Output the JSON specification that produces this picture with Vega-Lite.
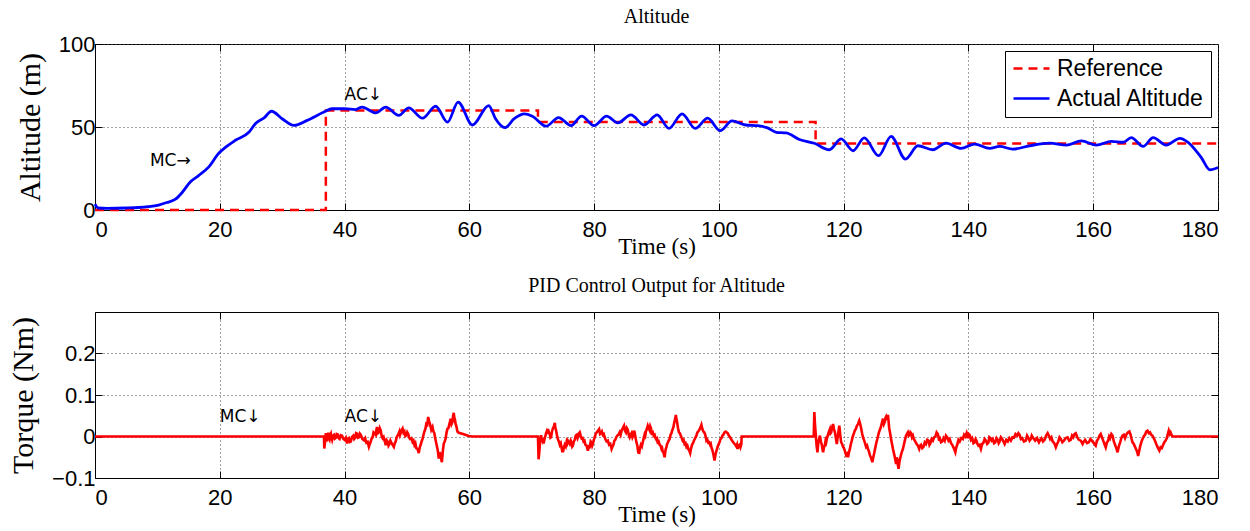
{
  "$schema": "https://vega.github.io/schema/vega-lite/v6.json",
  "padding": {"left": 8, "top": 6, "right": 5, "bottom": 5},
  "spacing": 16,
  "config": {
    "view": {"stroke": "black", "strokeWidth": 1},
    "axis": {
      "domainColor": "black", "tickColor": "black", "tickSize": -7,
      "labelFont": "Liberation Sans", "labelFontSize": 22, "labelColor": "black",
      "titleFont": "Liberation Serif", "titleFontWeight": "normal", "titleColor": "black",
      "gridColor": "#444", "gridDash": [1, 3], "gridWidth": 1
    },
    "axisX": {"labelPadding": 16, "titlePadding": -5, "titleFontSize": 23},
    "axisY": {"labelPadding": 7, "titlePadding": 13, "titleFontSize": 30},
    "title": {"font": "Liberation Serif", "fontSize": 20, "fontWeight": "normal", "color": "black", "offset": 16}
  },
  "datasets": {
    "alt": [
      {"t":0,"v":3.5,"s":"Actual Altitude"},{"t":0.5,"v":1.2,"s":"Actual Altitude"},{"t":2,"v":1,"s":"Actual Altitude"},{"t":5,"v":1.2,"s":"Actual Altitude"},{"t":7,"v":1.5,"s":"Actual Altitude"},{"t":8.5,"v":2,"s":"Actual Altitude"},{"t":10.2,"v":3,"s":"Actual Altitude"},{"t":11.5,"v":4.5,"s":"Actual Altitude"},{"t":12.9,"v":6.5,"s":"Actual Altitude"},{"t":14,"v":10.7,"s":"Actual Altitude"},{"t":15.3,"v":17,"s":"Actual Altitude"},{"t":16.6,"v":20.7,"s":"Actual Altitude"},{"t":18.2,"v":25.8,"s":"Actual Altitude"},{"t":19.8,"v":34,"s":"Actual Altitude"},{"t":21,"v":38,"s":"Actual Altitude"},{"t":22.5,"v":42,"s":"Actual Altitude"},{"t":24.7,"v":47,"s":"Actual Altitude"},{"t":25.7,"v":52,"s":"Actual Altitude"},{"t":27.1,"v":55.5,"s":"Actual Altitude"},{"t":28.3,"v":59.5,"s":"Actual Altitude"},{"t":30,"v":55,"s":"Actual Altitude"},{"t":31.9,"v":51,"s":"Actual Altitude"},{"t":34,"v":54,"s":"Actual Altitude"},{"t":36.7,"v":59,"s":"Actual Altitude"},{"t":38,"v":61,"s":"Actual Altitude"},{"t":40,"v":61,"s":"Actual Altitude"},{"t":41.8,"v":60.5,"s":"Actual Altitude"},{"t":42.8,"v":62,"s":"Actual Altitude"},{"t":45,"v":58.5,"s":"Actual Altitude"},{"t":46.6,"v":62,"s":"Actual Altitude"},{"t":48.7,"v":57,"s":"Actual Altitude"},{"t":50.3,"v":61.5,"s":"Actual Altitude"},{"t":52.5,"v":55.3,"s":"Actual Altitude"},{"t":54.6,"v":62.5,"s":"Actual Altitude"},{"t":56.5,"v":52.9,"s":"Actual Altitude"},{"t":58.2,"v":65,"s":"Actual Altitude"},{"t":60.5,"v":51.2,"s":"Actual Altitude"},{"t":63.1,"v":62.9,"s":"Actual Altitude"},{"t":64.2,"v":55,"s":"Actual Altitude"},{"t":65.7,"v":49.6,"s":"Actual Altitude"},{"t":67.2,"v":55,"s":"Actual Altitude"},{"t":68.8,"v":57.9,"s":"Actual Altitude"},{"t":70.1,"v":56.5,"s":"Actual Altitude"},{"t":72.3,"v":50.5,"s":"Actual Altitude"},{"t":74.3,"v":55.7,"s":"Actual Altitude"},{"t":76.3,"v":50.8,"s":"Actual Altitude"},{"t":78,"v":56.5,"s":"Actual Altitude"},{"t":80,"v":50.8,"s":"Actual Altitude"},{"t":82,"v":56.5,"s":"Actual Altitude"},{"t":83.8,"v":52.5,"s":"Actual Altitude"},{"t":85.9,"v":57.3,"s":"Actual Altitude"},{"t":88,"v":51.2,"s":"Actual Altitude"},{"t":90.1,"v":57.3,"s":"Actual Altitude"},{"t":92,"v":49.2,"s":"Actual Altitude"},{"t":94.1,"v":57.9,"s":"Actual Altitude"},{"t":96.2,"v":49.2,"s":"Actual Altitude"},{"t":98.2,"v":55.3,"s":"Actual Altitude"},{"t":100.2,"v":47.8,"s":"Actual Altitude"},{"t":102.1,"v":53.7,"s":"Actual Altitude"},{"t":104.3,"v":51.2,"s":"Actual Altitude"},{"t":106.2,"v":50.8,"s":"Actual Altitude"},{"t":107.8,"v":49.5,"s":"Actual Altitude"},{"t":109.2,"v":46.8,"s":"Actual Altitude"},{"t":110.8,"v":46.4,"s":"Actual Altitude"},{"t":112.9,"v":42.5,"s":"Actual Altitude"},{"t":115.3,"v":40.2,"s":"Actual Altitude"},{"t":117.7,"v":36.3,"s":"Actual Altitude"},{"t":119.6,"v":42.8,"s":"Actual Altitude"},{"t":121.5,"v":35.7,"s":"Actual Altitude"},{"t":123.3,"v":43.4,"s":"Actual Altitude"},{"t":125.6,"v":32.7,"s":"Actual Altitude"},{"t":127.6,"v":44.4,"s":"Actual Altitude"},{"t":129.9,"v":30.7,"s":"Actual Altitude"},{"t":131.9,"v":38.7,"s":"Actual Altitude"},{"t":134.3,"v":36.3,"s":"Actual Altitude"},{"t":136.4,"v":40.3,"s":"Actual Altitude"},{"t":138.8,"v":37.1,"s":"Actual Altitude"},{"t":141,"v":39.7,"s":"Actual Altitude"},{"t":143.4,"v":37.1,"s":"Actual Altitude"},{"t":145,"v":38.3,"s":"Actual Altitude"},{"t":147.1,"v":36.7,"s":"Actual Altitude"},{"t":149.8,"v":38.7,"s":"Actual Altitude"},{"t":153,"v":40.3,"s":"Actual Altitude"},{"t":155.7,"v":39.1,"s":"Actual Altitude"},{"t":158.1,"v":41.7,"s":"Actual Altitude"},{"t":160.5,"v":39.1,"s":"Actual Altitude"},{"t":162.9,"v":41.4,"s":"Actual Altitude"},{"t":164.8,"v":40.8,"s":"Actual Altitude"},{"t":166.1,"v":43.6,"s":"Actual Altitude"},{"t":168,"v":38.3,"s":"Actual Altitude"},{"t":169.6,"v":43.6,"s":"Actual Altitude"},{"t":171.7,"v":39.1,"s":"Actual Altitude"},{"t":173.9,"v":43.2,"s":"Actual Altitude"},{"t":175.2,"v":40.8,"s":"Actual Altitude"},{"t":177.3,"v":31.7,"s":"Actual Altitude"},{"t":178.7,"v":24.2,"s":"Actual Altitude"},{"t":180,"v":25.6,"s":"Actual Altitude"}
    ],
    "ref": [
      {"t":0,"v":0,"s":"Reference"},{"t":37,"v":0,"s":"Reference"},{"t":37,"v":60,"s":"Reference"},{"t":71,"v":60,"s":"Reference"},{"t":71,"v":53,"s":"Reference"},{"t":115.5,"v":53,"s":"Reference"},{"t":115.5,"v":40,"s":"Reference"},{"t":180,"v":40,"s":"Reference"}
    ],
    "notesTop": [
      {"t":8.8,"v":29.5,"label":"MC→"},{"t":40,"v":69,"label":"AC↓"}
    ],
    "notesBottom": [
      {"t":20,"v":0.048,"label":"MC↓"},{"t":40,"v":0.048,"label":"AC↓"}
    ],
    "torque": [
      {"t":0,"v":0},{"t":36.7,"v":0},{"t":36.75,"v":-0.029},{"t":36.9,"v":-0.01},{"t":37.0,"v":0.008},{"t":37.1,"v":-0.004},{"t":37.2,"v":-0.012},{"t":37.3,"v":0.002},{"t":37.4,"v":0.009},{"t":37.5,"v":-0.002},{"t":37.6,"v":-0.006},{"t":37.7,"v":0.004},{"t":37.8,"v":0.007},{"t":37.9,"v":-0.003},{"t":38.0,"v":-0.008},{"t":38.15,"v":0.002},{"t":38.3,"v":0.004},{"t":38.45,"v":-0.005},{"t":38.6,"v":-0.003},{"t":38.75,"v":0.006},{"t":38.9,"v":0.005},{"t":39.05,"v":-0.004},{"t":39.2,"v":-0.006},{"t":39.4,"v":0.003},{"t":39.6,"v":0.002},{"t":39.8,"v":-0.006},{"t":40.0,"v":-0.008},{"t":40.2,"v":-0.003},{"t":40.4,"v":-0.017},{"t":40.55,"v":-0.006},{"t":40.7,"v":-0.004},{"t":40.85,"v":-0.013},{"t":41.0,"v":-0.012},{"t":41.2,"v":-0.001},{"t":41.4,"v":0.002},{"t":41.55,"v":-0.006},{"t":41.7,"v":-0.003},{"t":41.85,"v":0.008},{"t":42.0,"v":0.007},{"t":42.15,"v":-0.003},{"t":42.3,"v":-0.002},{"t":42.45,"v":0.007},{"t":42.6,"v":0.004},{"t":42.85,"v":-0.006},{"t":43.1,"v":-0.009},{"t":43.3,"v":-0.004},{"t":43.5,"v":-0.015},{"t":43.7,"v":-0.013},{"t":43.9,"v":-0.025},{"t":44.05,"v":-0.018},{"t":44.2,"v":-0.012},{"t":44.35,"v":-0.004},{"t":44.5,"v":-0.002},{"t":44.65,"v":0.01},{"t":44.8,"v":0.008},{"t":45.0,"v":0.004},{"t":45.1,"v":0.016},{"t":45.2,"v":0.023},{"t":45.35,"v":0.008},{"t":45.5,"v":0.01},{"t":45.65,"v":0.02},{"t":45.8,"v":0.015},{"t":45.95,"v":0.001},{"t":46.1,"v":-0.004},{"t":46.25,"v":-0.001},{"t":46.4,"v":-0.01},{"t":46.5,"v":-0.014},{"t":46.6,"v":-0.021},{"t":46.75,"v":-0.009},{"t":46.9,"v":-0.012},{"t":47.05,"v":-0.022},{"t":47.2,"v":-0.018},{"t":47.35,"v":-0.01},{"t":47.5,"v":-0.015},{"t":47.7,"v":-0.02},{"t":47.9,"v":-0.025},{"t":48.05,"v":-0.016},{"t":48.2,"v":-0.012},{"t":48.35,"v":-0.002},{"t":48.5,"v":0.002},{"t":48.65,"v":0.006},{"t":48.8,"v":0.012},{"t":48.9,"v":0.004},{"t":49.0,"v":0.008},{"t":49.15,"v":0.015},{"t":49.3,"v":0.019},{"t":49.45,"v":0.009},{"t":49.6,"v":0.012},{"t":49.75,"v":0.001},{"t":49.9,"v":0.003},{"t":50.05,"v":0.01},{"t":50.2,"v":0.006},{"t":50.35,"v":-0.003},{"t":50.5,"v":-0.006},{"t":50.7,"v":-0.004},{"t":50.9,"v":-0.013},{"t":51.05,"v":-0.01},{"t":51.2,"v":-0.02},{"t":51.35,"v":-0.016},{"t":51.5,"v":-0.028},{"t":51.7,"v":-0.03},{"t":51.9,"v":-0.04},{"t":52.05,"v":-0.026},{"t":52.2,"v":-0.02},{"t":52.35,"v":-0.012},{"t":52.5,"v":-0.006},{"t":52.65,"v":0.004},{"t":52.8,"v":0.012},{"t":52.95,"v":0.018},{"t":53.1,"v":0.03},{"t":53.25,"v":0.028},{"t":53.4,"v":0.047},{"t":53.55,"v":0.036},{"t":53.7,"v":0.03},{"t":53.9,"v":0.016},{"t":54.1,"v":0.023},{"t":54.25,"v":0.012},{"t":54.4,"v":0.008},{"t":54.5,"v":-0.002},{"t":54.6,"v":-0.009},{"t":54.75,"v":-0.02},{"t":54.9,"v":-0.03},{"t":55.0,"v":-0.04},{"t":55.1,"v":-0.053},{"t":55.25,"v":-0.038},{"t":55.4,"v":-0.045},{"t":55.5,"v":-0.055},{"t":55.6,"v":-0.062},{"t":55.75,"v":-0.035},{"t":55.9,"v":-0.017},{"t":56.05,"v":-0.012},{"t":56.2,"v":-0.005},{"t":56.35,"v":0.01},{"t":56.5,"v":0.019},{"t":56.65,"v":0.02},{"t":56.8,"v":0.03},{"t":56.9,"v":0.036},{"t":57.0,"v":0.043},{"t":57.15,"v":0.03},{"t":57.3,"v":0.035},{"t":57.4,"v":0.05},{"t":57.5,"v":0.057},{"t":57.6,"v":0.045},{"t":57.7,"v":0.04},{"t":57.8,"v":0.03},{"t":57.9,"v":0.026},{"t":58.1,"v":0.012},{"t":58.3,"v":0.009},{"t":59.0,"v":0.006},{"t":59.9,"v":0.001},{"t":60.5,"v":0},{"t":71.0,"v":0},{"t":71.1,"v":-0.055},{"t":71.2,"v":-0.04},{"t":71.3,"v":-0.02},{"t":71.4,"v":-0.004},{"t":71.5,"v":0.003},{"t":71.6,"v":-0.006},{"t":71.7,"v":-0.01},{"t":71.8,"v":-0.004},{"t":71.9,"v":-0.017},{"t":72.05,"v":-0.006},{"t":72.2,"v":0.002},{"t":72.3,"v":0.008},{"t":72.4,"v":0.012},{"t":72.5,"v":0.006},{"t":72.6,"v":0.018},{"t":72.75,"v":0.01},{"t":72.9,"v":0.005},{"t":73.0,"v":-0.003},{"t":73.1,"v":-0.002},{"t":73.25,"v":0.012},{"t":73.4,"v":0.02},{"t":73.55,"v":0.024},{"t":73.7,"v":0.033},{"t":73.8,"v":0.02},{"t":73.9,"v":0.015},{"t":74.05,"v":0.003},{"t":74.2,"v":-0.007},{"t":74.35,"v":-0.012},{"t":74.5,"v":-0.02},{"t":74.65,"v":-0.016},{"t":74.8,"v":-0.028},{"t":74.9,"v":-0.024},{"t":75.0,"v":-0.038},{"t":75.15,"v":-0.027},{"t":75.3,"v":-0.02},{"t":75.45,"v":-0.024},{"t":75.6,"v":-0.012},{"t":75.7,"v":-0.016},{"t":75.8,"v":-0.01},{"t":75.95,"v":-0.014},{"t":76.1,"v":-0.018},{"t":76.25,"v":-0.01},{"t":76.4,"v":-0.015},{"t":76.5,"v":-0.024},{"t":76.6,"v":-0.022},{"t":76.75,"v":-0.012},{"t":76.9,"v":-0.008},{"t":77.05,"v":0.002},{"t":77.2,"v":0.004},{"t":77.35,"v":-0.004},{"t":77.5,"v":0.002},{"t":77.6,"v":0.008},{"t":77.7,"v":0.01},{"t":77.85,"v":0.002},{"t":78.0,"v":-0.005},{"t":78.15,"v":-0.004},{"t":78.3,"v":-0.012},{"t":78.45,"v":-0.01},{"t":78.6,"v":-0.02},{"t":78.8,"v":-0.022},{"t":79.0,"v":-0.034},{"t":79.15,"v":-0.024},{"t":79.3,"v":-0.025},{"t":79.45,"v":-0.012},{"t":79.6,"v":-0.015},{"t":79.7,"v":-0.022},{"t":79.8,"v":-0.018},{"t":79.95,"v":-0.008},{"t":80.1,"v":-0.002},{"t":80.25,"v":0.006},{"t":80.4,"v":0.01},{"t":80.6,"v":0.014},{"t":80.8,"v":0.018},{"t":80.95,"v":0.006},{"t":81.1,"v":0.008},{"t":81.25,"v":0.012},{"t":81.4,"v":0.004},{"t":81.55,"v":0.006},{"t":81.7,"v":-0.002},{"t":81.85,"v":-0.008},{"t":82.0,"v":-0.012},{"t":82.2,"v":-0.01},{"t":82.4,"v":-0.02},{"t":82.6,"v":-0.018},{"t":82.8,"v":-0.03},{"t":82.95,"v":-0.024},{"t":83.1,"v":-0.02},{"t":83.25,"v":-0.01},{"t":83.4,"v":-0.008},{"t":83.55,"v":-0.002},{"t":83.7,"v":0.002},{"t":83.9,"v":0.004},{"t":84.1,"v":0.01},{"t":84.25,"v":0.004},{"t":84.4,"v":0.014},{"t":84.6,"v":0.02},{"t":84.8,"v":0.026},{"t":84.95,"v":0.014},{"t":85.1,"v":0.01},{"t":85.25,"v":0.02},{"t":85.4,"v":0.016},{"t":85.55,"v":0.004},{"t":85.7,"v":-0.002},{"t":85.85,"v":0.004},{"t":86.0,"v":0.008},{"t":86.15,"v":-0.002},{"t":86.3,"v":0.003},{"t":86.4,"v":0.014},{"t":86.5,"v":0.01},{"t":86.65,"v":-0.004},{"t":86.8,"v":-0.015},{"t":86.9,"v":-0.02},{"t":87.0,"v":-0.03},{"t":87.1,"v":-0.026},{"t":87.2,"v":-0.042},{"t":87.35,"v":-0.028},{"t":87.5,"v":-0.02},{"t":87.65,"v":-0.024},{"t":87.8,"v":-0.014},{"t":87.95,"v":-0.004},{"t":88.1,"v":0.005},{"t":88.2,"v":0.002},{"t":88.3,"v":0.012},{"t":88.45,"v":0.018},{"t":88.6,"v":0.026},{"t":88.75,"v":0.02},{"t":88.9,"v":0.015},{"t":89.0,"v":0.024},{"t":89.1,"v":0.02},{"t":89.25,"v":0.008},{"t":89.4,"v":0.01},{"t":89.55,"v":0.002},{"t":89.7,"v":0.004},{"t":89.85,"v":-0.004},{"t":90.0,"v":-0.008},{"t":90.1,"v":-0.006},{"t":90.2,"v":-0.014},{"t":90.35,"v":-0.012},{"t":90.5,"v":-0.02},{"t":90.65,"v":-0.022},{"t":90.8,"v":-0.03},{"t":90.9,"v":-0.028},{"t":91.0,"v":-0.036},{"t":91.15,"v":-0.04},{"t":91.3,"v":-0.05},{"t":91.45,"v":-0.032},{"t":91.6,"v":-0.025},{"t":91.7,"v":-0.018},{"t":91.8,"v":-0.015},{"t":91.95,"v":-0.01},{"t":92.1,"v":-0.006},{"t":92.25,"v":0.004},{"t":92.4,"v":0.008},{"t":92.5,"v":0.014},{"t":92.6,"v":0.018},{"t":92.7,"v":0.022},{"t":92.8,"v":0.03},{"t":92.95,"v":0.04},{"t":93.1,"v":0.052},{"t":93.2,"v":0.042},{"t":93.3,"v":0.035},{"t":93.45,"v":0.02},{"t":93.6,"v":0.01},{"t":93.75,"v":0.008},{"t":93.9,"v":0.002},{"t":94.05,"v":-0.004},{"t":94.2,"v":-0.01},{"t":94.35,"v":-0.008},{"t":94.5,"v":-0.018},{"t":94.65,"v":-0.016},{"t":94.8,"v":-0.025},{"t":94.95,"v":-0.022},{"t":95.1,"v":-0.03},{"t":95.25,"v":-0.034},{"t":95.4,"v":-0.04},{"t":95.55,"v":-0.028},{"t":95.7,"v":-0.02},{"t":95.85,"v":-0.016},{"t":96.0,"v":-0.01},{"t":96.2,"v":-0.004},{"t":96.4,"v":0.002},{"t":96.55,"v":0.01},{"t":96.7,"v":0.012},{"t":96.85,"v":0.016},{"t":97.0,"v":0.02},{"t":97.1,"v":0.024},{"t":97.2,"v":0.028},{"t":97.35,"v":0.018},{"t":97.5,"v":0.012},{"t":97.65,"v":0.01},{"t":97.8,"v":0.005},{"t":97.9,"v":-0.002},{"t":98.0,"v":-0.01},{"t":98.15,"v":-0.008},{"t":98.3,"v":-0.015},{"t":98.45,"v":-0.014},{"t":98.6,"v":-0.02},{"t":98.7,"v":-0.018},{"t":98.8,"v":-0.026},{"t":98.9,"v":-0.03},{"t":99.0,"v":-0.035},{"t":99.15,"v":-0.045},{"t":99.3,"v":-0.058},{"t":99.45,"v":-0.044},{"t":99.6,"v":-0.035},{"t":99.85,"v":-0.022},{"t":100.1,"v":-0.014},{"t":100.25,"v":-0.006},{"t":100.4,"v":-0.004},{"t":100.55,"v":0.002},{"t":100.7,"v":0.004},{"t":100.9,"v":0.01},{"t":101.1,"v":0.012},{"t":101.25,"v":0.01},{"t":101.4,"v":0.008},{"t":101.6,"v":0.002},{"t":101.8,"v":-0.002},{"t":101.95,"v":-0.006},{"t":102.1,"v":-0.01},{"t":102.3,"v":-0.014},{"t":102.5,"v":-0.018},{"t":102.65,"v":-0.02},{"t":102.8,"v":-0.024},{"t":102.9,"v":-0.02},{"t":103.0,"v":-0.03},{"t":103.15,"v":-0.022},{"t":103.3,"v":-0.02},{"t":103.45,"v":-0.026},{"t":103.6,"v":-0.018},{"t":103.65,"v":0},{"t":115.2,"v":0},{"t":115.3,"v":0.059},{"t":115.4,"v":0.03},{"t":115.5,"v":0.01},{"t":115.65,"v":-0.02},{"t":115.8,"v":-0.038},{"t":115.9,"v":-0.02},{"t":116.0,"v":-0.01},{"t":116.1,"v":-0.004},{"t":116.2,"v":0.002},{"t":116.35,"v":-0.012},{"t":116.5,"v":-0.02},{"t":116.6,"v":-0.03},{"t":116.7,"v":-0.038},{"t":116.85,"v":-0.026},{"t":117.0,"v":-0.02},{"t":117.1,"v":-0.01},{"t":117.2,"v":-0.014},{"t":117.35,"v":-0.002},{"t":117.5,"v":0.005},{"t":117.65,"v":0.012},{"t":117.8,"v":0.018},{"t":117.9,"v":0.008},{"t":118.0,"v":0.01},{"t":118.15,"v":0.022},{"t":118.3,"v":0.03},{"t":118.45,"v":0.018},{"t":118.6,"v":0.01},{"t":118.75,"v":-0.004},{"t":118.9,"v":-0.018},{"t":119.0,"v":-0.006},{"t":119.1,"v":0.005},{"t":119.2,"v":0.016},{"t":119.3,"v":0.026},{"t":119.45,"v":0.004},{"t":119.6,"v":-0.014},{"t":119.75,"v":-0.018},{"t":119.9,"v":-0.025},{"t":120.05,"v":-0.028},{"t":120.2,"v":-0.035},{"t":120.3,"v":-0.04},{"t":120.4,"v":-0.045},{"t":120.55,"v":-0.042},{"t":120.7,"v":-0.05},{"t":120.85,"v":-0.038},{"t":121.0,"v":-0.03},{"t":121.15,"v":-0.018},{"t":121.3,"v":-0.01},{"t":121.4,"v":-0.004},{"t":121.5,"v":0.002},{"t":121.65,"v":0.008},{"t":121.8,"v":0.015},{"t":121.95,"v":0.018},{"t":122.1,"v":0.025},{"t":122.3,"v":0.03},{"t":122.5,"v":0.038},{"t":122.65,"v":0.03},{"t":122.8,"v":0.02},{"t":122.95,"v":0.008},{"t":123.1,"v":-0.002},{"t":123.25,"v":-0.008},{"t":123.4,"v":-0.015},{"t":123.5,"v":-0.02},{"t":123.6,"v":-0.025},{"t":123.75,"v":-0.022},{"t":123.9,"v":-0.03},{"t":124.05,"v":-0.036},{"t":124.2,"v":-0.045},{"t":124.4,"v":-0.052},{"t":124.6,"v":-0.062},{"t":124.75,"v":-0.05},{"t":124.9,"v":-0.04},{"t":125.0,"v":-0.032},{"t":125.1,"v":-0.025},{"t":125.25,"v":-0.014},{"t":125.4,"v":-0.006},{"t":125.55,"v":0.004},{"t":125.7,"v":0.012},{"t":125.85,"v":0.018},{"t":126.0,"v":0.025},{"t":126.15,"v":0.034},{"t":126.3,"v":0.043},{"t":126.45,"v":0.03},{"t":126.6,"v":0.035},{"t":126.7,"v":0.045},{"t":126.8,"v":0.048},{"t":126.95,"v":0.04},{"t":127.1,"v":0.052},{"t":127.2,"v":0.036},{"t":127.3,"v":0.02},{"t":127.45,"v":0.008},{"t":127.6,"v":-0.006},{"t":127.75,"v":-0.018},{"t":127.9,"v":-0.03},{"t":128.05,"v":-0.04},{"t":128.2,"v":-0.05},{"t":128.3,"v":-0.058},{"t":128.4,"v":-0.066},{"t":128.5,"v":-0.05},{"t":128.6,"v":-0.055},{"t":128.7,"v":-0.07},{"t":128.8,"v":-0.078},{"t":128.95,"v":-0.06},{"t":129.1,"v":-0.05},{"t":129.3,"v":-0.038},{"t":129.5,"v":-0.03},{"t":129.65,"v":-0.02},{"t":129.8,"v":-0.01},{"t":129.9,"v":-0.004},{"t":130.0,"v":0.002},{"t":130.15,"v":0.006},{"t":130.3,"v":0.01},{"t":130.45,"v":0.002},{"t":130.6,"v":0.004},{"t":130.7,"v":0.01},{"t":130.8,"v":0.008},{"t":130.95,"v":-0.002},{"t":131.1,"v":0.002},{"t":131.25,"v":-0.006},{"t":131.4,"v":-0.01},{"t":131.55,"v":-0.014},{"t":131.7,"v":-0.018},{"t":131.9,"v":-0.022},{"t":132.1,"v":-0.03},{"t":132.25,"v":-0.022},{"t":132.4,"v":-0.02},{"t":132.6,"v":-0.028},{"t":132.8,"v":-0.025},{"t":133.0,"v":-0.014},{"t":133.2,"v":-0.018},{"t":133.4,"v":-0.008},{"t":133.6,"v":-0.01},{"t":133.75,"v":-0.02},{"t":133.9,"v":-0.016},{"t":134.1,"v":-0.006},{"t":134.3,"v":-0.01},{"t":134.5,"v":-0.002},{"t":134.7,"v":0.0},{"t":134.9,"v":0.01},{"t":135.1,"v":0.006},{"t":135.25,"v":-0.006},{"t":135.4,"v":-0.004},{"t":135.6,"v":-0.014},{"t":135.8,"v":-0.012},{"t":136.0,"v":-0.004},{"t":136.2,"v":-0.01},{"t":136.4,"v":0.002},{"t":136.6,"v":-0.002},{"t":136.8,"v":-0.01},{"t":137.0,"v":-0.006},{"t":137.2,"v":-0.016},{"t":137.4,"v":-0.02},{"t":137.65,"v":-0.028},{"t":137.9,"v":-0.038},{"t":138.05,"v":-0.026},{"t":138.2,"v":-0.02},{"t":138.4,"v":-0.008},{"t":138.6,"v":-0.012},{"t":138.85,"v":-0.004},{"t":139.1,"v":-0.006},{"t":139.3,"v":0.004},{"t":139.5,"v":0.0},{"t":139.7,"v":0.008},{"t":139.9,"v":-0.004},{"t":140.05,"v":0.006},{"t":140.2,"v":0.004},{"t":140.4,"v":-0.008},{"t":140.6,"v":-0.004},{"t":140.8,"v":-0.016},{"t":141.0,"v":-0.014},{"t":141.15,"v":-0.006},{"t":141.3,"v":-0.01},{"t":141.45,"v":-0.018},{"t":141.6,"v":-0.022},{"t":141.8,"v":-0.02},{"t":142.0,"v":-0.03},{"t":142.2,"v":-0.018},{"t":142.4,"v":-0.015},{"t":142.6,"v":-0.006},{"t":142.8,"v":-0.01},{"t":143.0,"v":-0.018},{"t":143.2,"v":-0.015},{"t":143.35,"v":-0.002},{"t":143.5,"v":-0.004},{"t":143.7,"v":-0.01},{"t":143.9,"v":-0.006},{"t":144.1,"v":-0.016},{"t":144.3,"v":-0.014},{"t":144.5,"v":-0.004},{"t":144.7,"v":-0.008},{"t":144.85,"v":-0.016},{"t":145.0,"v":-0.012},{"t":145.2,"v":-0.002},{"t":145.4,"v":-0.006},{"t":145.6,"v":-0.012},{"t":145.8,"v":-0.018},{"t":146.05,"v":-0.008},{"t":146.3,"v":-0.012},{"t":146.55,"v":-0.004},{"t":146.8,"v":-0.01},{"t":147.05,"v":-0.002},{"t":147.3,"v":-0.003},{"t":147.55,"v":0.006},{"t":147.8,"v":0.002},{"t":148.0,"v":0.008},{"t":148.2,"v":0.004},{"t":148.4,"v":-0.006},{"t":148.6,"v":-0.004},{"t":148.9,"v":-0.012},{"t":149.2,"v":-0.01},{"t":149.4,"v":0.002},{"t":149.6,"v":-0.003},{"t":149.8,"v":-0.01},{"t":150.0,"v":-0.006},{"t":150.15,"v":0.002},{"t":150.3,"v":-0.002},{"t":150.5,"v":-0.006},{"t":150.7,"v":-0.01},{"t":151.0,"v":-0.004},{"t":151.3,"v":-0.014},{"t":151.5,"v":-0.008},{"t":151.7,"v":-0.004},{"t":151.95,"v":-0.012},{"t":152.2,"v":-0.008},{"t":152.45,"v":0.002},{"t":152.7,"v":0.008},{"t":152.9,"v":0.002},{"t":153.1,"v":-0.006},{"t":153.3,"v":-0.002},{"t":153.5,"v":-0.012},{"t":153.75,"v":-0.016},{"t":154.0,"v":-0.026},{"t":154.2,"v":-0.018},{"t":154.4,"v":-0.012},{"t":154.6,"v":-0.002},{"t":154.8,"v":-0.006},{"t":155.05,"v":-0.014},{"t":155.3,"v":-0.01},{"t":155.6,"v":-0.004},{"t":155.9,"v":-0.002},{"t":156.15,"v":-0.01},{"t":156.4,"v":-0.008},{"t":156.6,"v":0.002},{"t":156.8,"v":-0.002},{"t":157.0,"v":0.006},{"t":157.2,"v":0.008},{"t":157.45,"v":-0.002},{"t":157.7,"v":-0.008},{"t":158.0,"v":-0.01},{"t":158.3,"v":-0.018},{"t":158.5,"v":-0.012},{"t":158.7,"v":-0.008},{"t":159.0,"v":-0.016},{"t":159.3,"v":-0.014},{"t":159.55,"v":-0.006},{"t":159.8,"v":-0.01},{"t":160.1,"v":-0.016},{"t":160.4,"v":-0.022},{"t":160.6,"v":-0.01},{"t":160.8,"v":-0.006},{"t":161.0,"v":0.002},{"t":161.2,"v":0.006},{"t":161.4,"v":-0.002},{"t":161.6,"v":-0.01},{"t":161.8,"v":-0.018},{"t":162.0,"v":-0.026},{"t":162.2,"v":-0.014},{"t":162.4,"v":-0.01},{"t":162.55,"v":0.0},{"t":162.7,"v":-0.004},{"t":162.9,"v":0.006},{"t":163.1,"v":0.002},{"t":163.3,"v":-0.012},{"t":163.5,"v":-0.02},{"t":163.7,"v":-0.028},{"t":163.9,"v":-0.038},{"t":164.1,"v":-0.024},{"t":164.3,"v":-0.015},{"t":164.5,"v":-0.004},{"t":164.7,"v":0.002},{"t":164.9,"v":0.004},{"t":165.1,"v":-0.004},{"t":165.35,"v":0.006},{"t":165.6,"v":0.01},{"t":165.8,"v":0.012},{"t":166.0,"v":0.004},{"t":166.15,"v":-0.006},{"t":166.3,"v":-0.014},{"t":166.5,"v":-0.018},{"t":166.7,"v":-0.025},{"t":166.85,"v":-0.03},{"t":167.0,"v":-0.035},{"t":167.1,"v":-0.04},{"t":167.2,"v":-0.047},{"t":167.35,"v":-0.036},{"t":167.5,"v":-0.025},{"t":167.7,"v":-0.014},{"t":167.9,"v":-0.006},{"t":168.1,"v":0.0},{"t":168.3,"v":0.004},{"t":168.5,"v":0.012},{"t":168.7,"v":0.014},{"t":168.9,"v":0.008},{"t":169.1,"v":0.01},{"t":169.3,"v":0.004},{"t":169.5,"v":0.002},{"t":169.7,"v":-0.004},{"t":169.9,"v":-0.01},{"t":170.1,"v":-0.018},{"t":170.3,"v":-0.025},{"t":170.45,"v":-0.03},{"t":170.6,"v":-0.034},{"t":170.8,"v":-0.026},{"t":171.0,"v":-0.028},{"t":171.2,"v":-0.02},{"t":171.4,"v":-0.014},{"t":171.6,"v":-0.01},{"t":171.8,"v":-0.004},{"t":171.95,"v":0.006},{"t":172.1,"v":0.014},{"t":172.25,"v":0.006},{"t":172.4,"v":0.01},{"t":172.55,"v":0.004},{"t":172.7,"v":0},{"t":180,"v":0}
    ]
  },
  "vconcat": [
    {
      "title": {"text": "Altitude", "offset": 6},
      "width": 1123,
      "height": 166,
      "layer": [
        {
          "data": {"name": "ref"},
          "mark": {"type": "line", "strokeWidth": 2.5, "strokeDash": [9, 6]},
          "encoding": {
            "x": {"field": "t", "type": "quantitative", "scale": {"domain": [0, 180], "nice": false},
                  "axis": {"orient": "bottom", "values": [0,20,40,60,80,100,120,140,160,180], "title": "Time (s)", "grid": true}},
            "y": {"field": "v", "type": "quantitative", "scale": {"domain": [0, 100], "nice": false},
                  "axis": {"orient": "left", "values": [0, 50, 100], "title": "Altitude (m)", "grid": true}},
            "color": {"field": "s", "type": "nominal", "title": null,
                      "scale": {"domain": ["Reference", "Actual Altitude"], "range": ["#ff0000", "#0000ff"]},
                      "legend": {"orient": "none", "legendX": 910, "legendY": 7, "direction": "vertical",
                                 "strokeColor": "black", "fillColor": "white", "padding": 6, "cornerRadius": 0,
                                 "symbolType": "M-2,0L2,0", "symbolSize": 324, "symbolStrokeWidth": 2.5, "symbolOffset": 9,
                                 "labelFont": "Liberation Sans", "labelFontSize": 23, "labelColor": "black", "labelOffset": 14, "rowPadding": 6,
                                 "encode": {"symbols": {"update": {"strokeDash": {"signal": "datum.value === 'Reference' ? [9, 6] : [1, 0]"}}}}}}
          }
        },
        {
          "data": {"name": "alt"},
          "mark": {"type": "line", "strokeWidth": 2.8, "interpolate": "monotone"},
          "encoding": {
            "x": {"field": "t", "type": "quantitative", "axis": null},
            "y": {"field": "v", "type": "quantitative", "axis": null},
            "color": {"field": "s", "type": "nominal"}
          }
        },
        {
          "data": {"name": "notesTop"},
          "mark": {"type": "text", "align": "left", "baseline": "middle", "font": "DejaVu Sans", "fontSize": 17, "color": "black"},
          "encoding": {
            "x": {"field": "t", "type": "quantitative", "axis": {"orient": "top", "values": [20,40,60,80,100,120,140,160], "labels": false, "title": null, "grid": false, "domain": false}},
            "y": {"field": "v", "type": "quantitative", "axis": {"orient": "right", "values": [50], "labels": false, "title": null, "grid": false, "domain": false}},
            "text": {"field": "label"}
          }
        }
      ]
    },
    {
      "title": {"text": "PID Control Output for Altitude", "offset": 16},
      "width": 1123,
      "height": 166,
      "layer": [
        {
          "data": {"name": "torque"},
          "mark": {"type": "line", "strokeWidth": 2.6, "color": "#ff0000"},
          "encoding": {
            "x": {"field": "t", "type": "quantitative", "scale": {"domain": [0, 180], "nice": false},
                  "axis": {"orient": "bottom", "values": [0,20,40,60,80,100,120,140,160,180], "title": "Time (s)", "grid": true}},
            "y": {"field": "v", "type": "quantitative", "scale": {"domain": [-0.1, 0.3], "nice": false},
                  "axis": {"orient": "left", "values": [-0.1, 0, 0.1, 0.2], "format": ".1~f", "title": "Torque (Nm)", "grid": true}}
          }
        },
        {
          "data": {"name": "notesBottom"},
          "mark": {"type": "text", "align": "left", "baseline": "middle", "font": "DejaVu Sans", "fontSize": 17, "color": "black"},
          "encoding": {
            "x": {"field": "t", "type": "quantitative", "axis": {"orient": "top", "values": [20,40,60,80,100,120,140,160], "labels": false, "title": null, "grid": false, "domain": false}},
            "y": {"field": "v", "type": "quantitative", "axis": {"orient": "right", "values": [0, 0.1, 0.2], "labels": false, "title": null, "grid": false, "domain": false}},
            "text": {"field": "label"}
          }
        }
      ]
    }
  ]
}
